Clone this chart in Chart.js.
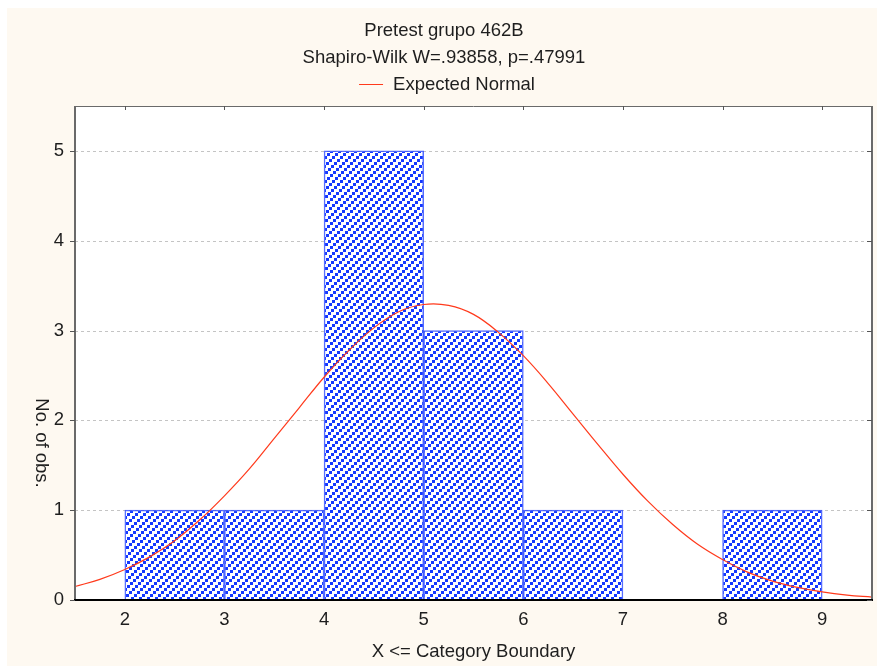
<!DOCTYPE html>
<html>
<head>
<meta charset="utf-8">
<script src="https://cdn.jsdelivr.net/npm/chart.js@4.4.1/dist/chart.umd.min.js"></script>
<style>
  html, body { margin: 0; padding: 0; background: #ffffff; }
  #wrap { width: 877px; height: 666px; position: relative; }
</style>
</head>
<body>
<div id="wrap"><canvas id="c"></canvas></div>
<script>
// Histogram of pretest scores with the fitted normal curve
const titleLines = ['Pretest grupo 462B', 'Shapiro-Wilk W=.93858, p=.47991'];
const legendLabel = 'Expected Normal';
const xAxisTitle = 'X <= Category Boundary';
const yAxisTitle = 'No. of obs.';

// Category boundaries and observation counts
const binLower = [2, 3, 4, 5, 6, 7, 8];
const binUpper = [3, 4, 5, 6, 7, 8, 9];
const binCounts = [1, 1, 5, 3, 1, 0, 1];

// Expected normal curve (expected count per unit category)
const curveX = [1.5, 1.75, 2, 2.25, 2.5, 2.75, 3, 3.25, 3.5, 3.75, 4, 4.25, 4.5, 4.75, 5,
                5.25, 5.5, 5.75, 6, 6.25, 6.5, 6.75, 7, 7.25, 7.5, 7.75, 8, 8.25, 8.5, 8.75,
                9, 9.25, 9.5];
const curveY = [0.15, 0.23, 0.34, 0.48, 0.66, 0.89, 1.16, 1.46, 1.80, 2.14, 2.48, 2.78, 3.03, 3.21, 3.29,
                3.28, 3.18, 2.98, 2.72, 2.41, 2.07, 1.73, 1.40, 1.10, 0.84, 0.62, 0.45, 0.31, 0.21, 0.14,
                0.09, 0.055, 0.033];

// Axis ticks
const xTicks = [2, 3, 4, 5, 6, 7, 8, 9];
const yTicks = [0, 1, 2, 3, 4, 5];

const FONT = '"Liberation Sans", Arial, Helvetica, sans-serif';
const FONT_SIZE = 18.5;
const TEXT = '#1e1e1e';
const CREAM = '#fef9f1';
const BLUE = '#1438ff';
const RED = '#ff3a1c';

// Diagonal hatch for the bars: "/" staircases of 3x3 blocks meeting at the
// corners, one staircase every 8 px horizontally.
function makeHatch() {
  const size = 24;
  const p = document.createElement('canvas');
  p.width = size; p.height = size;
  const g = p.getContext('2d');
  g.fillStyle = '#ffffff';
  g.fillRect(0, 0, size, size);
  g.fillStyle = BLUE;
  for (let a = 0; a < 8; a++) {
    for (let b = 0; b < 3; b++) {
      const x = ((3 * a + 8 * b) % size + size) % size;
      const y = ((-3 * a) % size + size) % size;
      g.fillRect(x, y, 3, 3);
      if (x + 3 > size) g.fillRect(x - size, y, 3, 3);
      if (y + 3 > size) g.fillRect(x, y - size, 3, 3);
    }
  }
  return document.getElementById('c').getContext('2d').createPattern(p, 'repeat');
}

const barData = binLower.map((lo, i) => ({ x: (lo + binUpper[i]) / 2, y: binCounts[i] }));
const curveData = curveX.map((x, i) => ({ x: x, y: curveY[i] }));

const framePlugin = {
  id: 'frame',
  beforeDraw(chart) {
    const { ctx, chartArea: a, width, height } = chart;
    ctx.save();
    ctx.fillStyle = '#ffffff';
    ctx.fillRect(0, 0, width, height);
    ctx.fillStyle = CREAM;
    ctx.fillRect(7, 8, width - 7, height - 8);
    ctx.fillStyle = '#ffffff';
    ctx.fillRect(a.left, a.top, a.right - a.left, a.bottom - a.top);
    ctx.restore();
  },
  beforeDatasetsDraw(chart) {
    const { ctx, chartArea: a, scales } = chart;
    ctx.save();
    ctx.strokeStyle = '#c4c4c4';
    ctx.lineWidth = 1;
    ctx.setLineDash([3, 3]);
    yTicks.forEach(v => {
      if (v === 0) return;
      const y = Math.round(scales.y.getPixelForValue(v)) + 0.5;
      ctx.beginPath();
      ctx.moveTo(a.left, y);
      ctx.lineTo(a.right, y);
      ctx.stroke();
    });
    ctx.restore();
  },
  afterDatasetsDraw(chart) {
    const { ctx, chartArea: a, scales } = chart;
    ctx.save();
    ctx.setLineDash([]);
    // frame
    ctx.strokeStyle = '#6a6a6a';
    ctx.lineWidth = 1;
    ctx.beginPath();
    ctx.moveTo(a.left, a.top + 0.5);
    ctx.lineTo(a.right, a.top + 0.5);
    ctx.stroke();
    ctx.lineWidth = 2;
    ctx.beginPath();
    ctx.moveTo(a.left, a.top);
    ctx.lineTo(a.left, a.bottom);
    ctx.moveTo(a.right, a.top);
    ctx.lineTo(a.right, a.bottom);
    ctx.stroke();
    ctx.strokeStyle = '#000000';
    ctx.beginPath();
    ctx.moveTo(a.left - 1, a.bottom);
    ctx.lineTo(a.right + 1, a.bottom);
    ctx.stroke();
    // ticks
    ctx.strokeStyle = '#555555';
    ctx.lineWidth = 1;
    ctx.beginPath();
    yTicks.forEach(v => {
      const y = Math.round(scales.y.getPixelForValue(v)) + 0.5;
      ctx.moveTo(a.left - 5, y); ctx.lineTo(a.left, y);
      ctx.moveTo(a.right - 5, y); ctx.lineTo(a.right, y);
    });
    xTicks.forEach(v => {
      const x = Math.round(scales.x.getPixelForValue(v)) + 0.5;
      ctx.moveTo(x, a.top); ctx.lineTo(x, a.top + 4);
    });
    ctx.stroke();
    ctx.restore();
  },
  afterDraw(chart) {
    const { ctx, chartArea: a } = chart;
    ctx.save();
    ctx.fillStyle = TEXT;
    ctx.font = FONT_SIZE + 'px ' + FONT;
    ctx.textAlign = 'center';
    ctx.textBaseline = 'middle';
    const cx = 444;
    ctx.fillText(titleLines[0], cx, 31);
    ctx.fillText(titleLines[1], cx, 58);
    // legend entry
    const tw = ctx.measureText(legendLabel).width;
    const total = 24 + 10 + tw;
    const lx = cx - total / 2 + 3;
    ctx.strokeStyle = RED;
    ctx.lineWidth = 1;
    ctx.beginPath();
    ctx.moveTo(lx, 84.5);
    ctx.lineTo(lx + 24, 84.5);
    ctx.stroke();
    ctx.textAlign = 'left';
    ctx.fillText(legendLabel, lx + 34, 85);
    // axis titles
    ctx.textAlign = 'center';
    ctx.fillText(xAxisTitle, (a.left + a.right) / 2, 652);
    ctx.translate(41, 443);
    ctx.rotate(Math.PI / 2);
    ctx.fillText(yAxisTitle, 0, 0);
    ctx.restore();
  }
};

const chart = new Chart(document.getElementById('c'), {
  type: 'bar',
  data: {
    datasets: [
      {
        type: 'line',
        label: legendLabel,
        data: curveData,
        borderColor: RED,
        borderWidth: 1.2,
        pointRadius: 0,
        tension: 0.4,
        fill: false,
        order: 0
      },
      {
        type: 'bar',
        label: 'Counts',
        data: barData,
        backgroundColor: makeHatch(),
        borderColor: 'rgba(30, 60, 255, 0.75)',
        borderWidth: 1.5,
        borderSkipped: 'bottom',
        barPercentage: 1,
        categoryPercentage: 1,
        grouped: false,
        order: 1
      }
    ]
  },
  options: {
    responsive: true,
    maintainAspectRatio: false,
    animation: false,
    devicePixelRatio: 1,
    layout: { padding: { top: 106, right: 5, left: 0, bottom: 0 } },
    plugins: {
      legend: { display: false },
      title: { display: false },
      tooltip: { enabled: false }
    },
    scales: {
      x: {
        type: 'linear',
        min: 1.5,
        max: 9.5,
        offset: false,
        afterFit(s) { s.height = 66; },
        afterBuildTicks(s) { s.ticks = xTicks.map(v => ({ value: v })); },
        grid: { display: false, drawTicks: false },
        border: { display: false },
        ticks: { color: TEXT, font: { family: FONT, size: FONT_SIZE }, padding: 9, autoSkip: false, maxRotation: 0 }
      },
      y: {
        type: 'linear',
        min: 0,
        max: 5.5,
        afterFit(s) { s.width = 75; },
        afterBuildTicks(s) { s.ticks = yTicks.map(v => ({ value: v })); },
        grid: { display: false, drawTicks: false },
        border: { display: false },
        ticks: { color: TEXT, font: { family: FONT, size: FONT_SIZE }, padding: 11 }
      }
    }
  },
  plugins: [framePlugin]
});
</script>
</body>
</html>
